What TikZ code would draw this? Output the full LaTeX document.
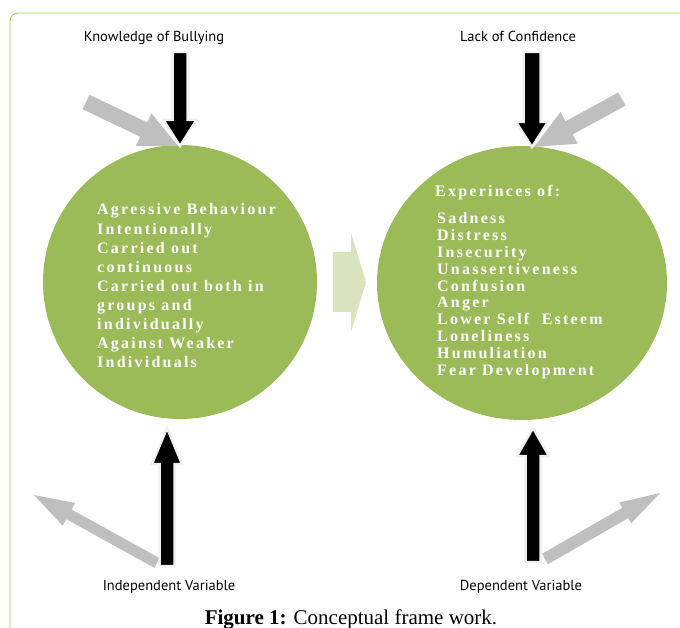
\documentclass[tikz,border=0pt]{standalone}
\usepackage{fontspec}
\setmainfont{Liberation Serif}
\newfontfamily\labelfont{PT Sans}
\newfontfamily\circfont[LetterSpace=14]{Liberation Serif}
\usetikzlibrary{calc}

\definecolor{olive}{HTML}{9BBB59}
\definecolor{paleolive}{HTML}{D7E4BD}
\definecolor{framegreen}{HTML}{92D050}
\definecolor{shadowgray}{HTML}{BFBFBF}

\tikzset{
  varlabel/.style={font=\labelfont\fontsize{14.5}{17}\selectfont, inner sep=0pt},
  circtxt/.style={font=\circfont\bfseries\fontsize{16}{19}\selectfont, text=white, inner sep=0pt, anchor=base west},
  blackarrow/.style={fill=black, draw=black!6, line width=2.5pt, line join=miter},
  grayarrow/.style={fill=shadowgray},
  midarrow/.style={fill=paleolive},
}

% block arrow from tail #2 to tip #3: shaft width #4, head width #5, head length #6
\newcommand{\blockarr}[6]{%
  \path[#1] let \p1=(#2), \p2=(#3),
      \n1={atan2(\y2-\y1,\x2-\x1)}, \n2={veclen(\x2-\x1,\y2-\y1)} in
    [shift={(\x1,\y1)}, rotate=\n1]
    (0,{-#4/2}) -- ({\n2-#6},{-#4/2}) -- ({\n2-#6},{-#5/2}) -- (\n2,0)
    -- ({\n2-#6},{#5/2}) -- ({\n2-#6},{#4/2}) -- (0,{#4/2}) -- cycle;%
}

\begin{document}
\begin{tikzpicture}[x=1pt,y=-1pt]
\useasboundingbox (0,0) rectangle (680,628);

% frame (only its top and left sides fall inside the page)
\draw[framegreen, line width=0.8pt, rounded corners=8pt] (700,13) -- (10,13) -- (10,650);

% the two circles
\node[circle, fill=olive, minimum size=274pt, inner sep=0pt] (cause) at (180,282) {};
\fill[olive] (522,283) ellipse [x radius=145, y radius=137];
\coordinate (effect) at (522,283);

% arrow between the circles
\fill[midarrow] (333,252) -- (351,252) -- (351,233) -- (366,282) -- (351,332) -- (351,312) -- (333,312) -- cycle;

% named arrow ends
\coordinate (kbTail) at (180,52);   \coordinate (kbTip) at (180,146);
\coordinate (lcTail) at (532,52);   \coordinate (lcTip) at (532,147);
\coordinate (ivTail) at (167,566);  \coordinate (ivTip) at (167,428);
\coordinate (dvTail) at (533,562);  \coordinate (dvTip) at (533,428);

\coordinate (g1Tail) at (86,102);   \coordinate (g1Tip) at (178,146);
\coordinate (g2Tail) at (622,99);   \coordinate (g2Tip) at (534,147);
\coordinate (g3Tail) at (157,563);  \coordinate (g3Tip) at (34,495);
\coordinate (g4Tail) at (545,559);  \coordinate (g4Tip) at (660,493);

% gray arrows
\blockarr{grayarrow}{g1Tail}{g1Tip}{16}{36}{38}
\blockarr{grayarrow}{g2Tail}{g2Tip}{15}{36}{40}
\blockarr{grayarrow}{g3Tail}{g3Tip}{11}{26}{40}
\blockarr{grayarrow}{g4Tail}{g4Tip}{12}{24}{40}

% black arrows
\blockarr{blackarrow}{kbTail}{kbTip}{15}{33}{26}
\blockarr{blackarrow}{lcTail}{lcTip}{17}{32}{25}
\blockarr{blackarrow}{ivTail}{ivTip}{15}{30}{36}
\blockarr{blackarrow}{dvTail}{dvTip}{15}{32}{28}

% variable labels
\node[varlabel, anchor=base] (kb) at (154,42) {Knowledge of Bullying};
\node[varlabel, anchor=base] (lc) at (518,42) {Lack of Confidence};
\node[varlabel, anchor=base] (iv) at (169,590) {Independent Variable};
\node[varlabel, anchor=base] (dv) at (521,590) {Dependent Variable};

% text in the left circle
\foreach \t [count=\i] in {Agressive Behaviour, Intentionally, Carried out, continuous,
    Carried out both in, groups and, individually, Against Weaker, Individuals}
  \node[circtxt] (cause\i) at (97,{215+19.05*(\i-1)}) {\t};

% text in the right circle
\node[circtxt] (effectHead) at (435,197) {Experinces of:};
\foreach \t [count=\i] in {Sadness, Distress, Insecurity, Unassertiveness, Confusion,
    Anger, Lower Self\ \ Esteem, Loneliness, Humuliation, Fear Development}
  \node[circtxt] (effect\i) at (437,{223.3+16.94*(\i-1)}) {\t};

% caption
\node[anchor=base, inner sep=0pt, font=\fontsize{21}{25}\selectfont] (caption) at (351,624)
  {\textbf{Figure 1:} Conceptual frame work.};
\end{tikzpicture}
\end{document}
